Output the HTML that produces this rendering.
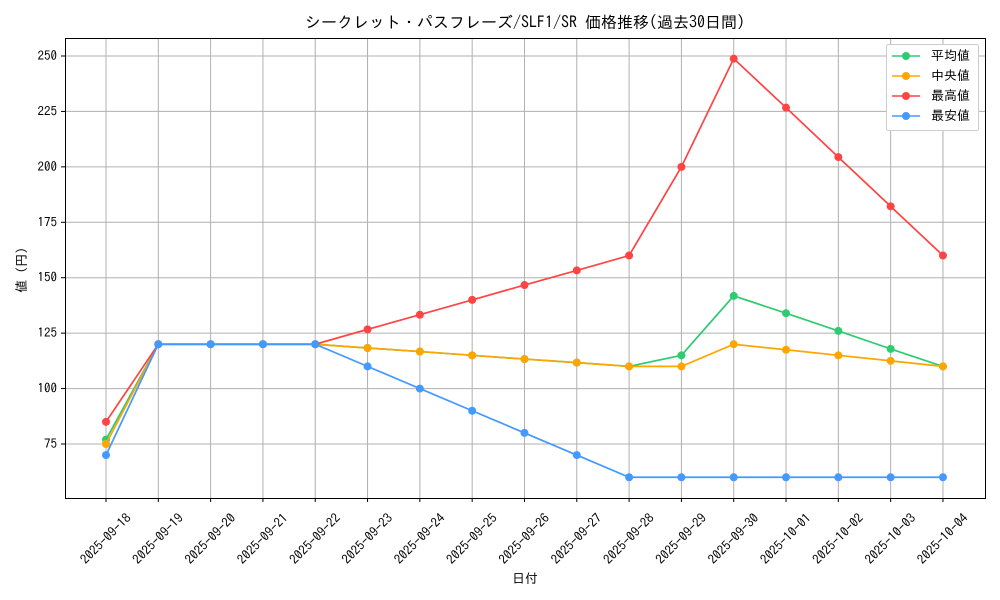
<!DOCTYPE html>
<html><head><meta charset="utf-8"><style>
html,body{margin:0;padding:0;background:#fff;}
svg{display:block;font-family:"IPAGothic","Liberation Sans","Noto Sans CJK JP",sans-serif;}
</style></head><body>
<svg width="1000" height="600" viewBox="0 0 1000 600" xmlns="http://www.w3.org/2000/svg">
<rect width="1000" height="600" fill="#fff"/>
<text x="525" y="28" font-size="16" text-anchor="middle" fill="#000">シークレット・パスフレーズ/SLF1/SR 価格推移(過去30日間)</text>
<g id="grid" stroke="#b0b0b0" stroke-width="1"></g>
<rect x="65.5" y="38.5" width="920" height="460" fill="none" stroke="#000" stroke-width="1"/>
<g id="ticks" font-size="13" fill="#000"></g>
<g id="series"></g>
<text x="525" y="583" font-size="13" text-anchor="middle">日付</text>
<text x="26" y="270" font-size="13" text-anchor="middle" transform="rotate(-90 26 270)">値 (円)</text>
<g font-size="13">
<rect x="886.5" y="44.5" width="92" height="86" rx="2" fill="#fff" stroke="#ccc"/>
<line x1="892" y1="56" x2="920" y2="56" stroke="#2ecc71" stroke-width="1.5"/><circle cx="906" cy="56" r="4" fill="#2ecc71"/><text x="931" y="60">平均値</text>
<line x1="892" y1="76" x2="920" y2="76" stroke="#ffa500" stroke-width="1.5"/><circle cx="906" cy="76" r="4" fill="#ffa500"/><text x="931" y="80"> 中央値</text>
<line x1="892" y1="96" x2="920" y2="96" stroke="#ff4444" stroke-width="1.5"/><circle cx="906" cy="96" r="4" fill="#ff4444"/><text x="931" y="100">最高値</text>
<line x1="892" y1="116" x2="920" y2="116" stroke="#4499ff" stroke-width="1.5"/><circle cx="906" cy="116" r="4" fill="#4499ff"/><text x="931" y="120">最安値</text>
</g>
</svg>
<script>
const ns="http://www.w3.org/2000/svg";
function el(p,t,a,txt){const e=document.createElementNS(ns,t);for(const k in a)e.setAttribute(k,a[k]);if(txt!=null)e.textContent=txt;p.appendChild(e);return e;}
const X=i=>106+i*52.31, Y=v=>444-(v-75)*2.2171;
const dates=["2025-09-18","2025-09-19","2025-09-20","2025-09-21","2025-09-22","2025-09-23","2025-09-24","2025-09-25","2025-09-26","2025-09-27","2025-09-28","2025-09-29","2025-09-30","2025-10-01","2025-10-02","2025-10-03","2025-10-04"];
const g=document.getElementById("grid"),t=document.getElementById("ticks"),s=document.getElementById("series");
dates.forEach((d,i)=>{const x=X(i);el(g,"line",{x1:x,y1:38,x2:x,y2:498});el(t,"line",{x1:x,y1:498,x2:x,y2:502,stroke:"#000"});
el(t,"text",{x:x,y:543,"text-anchor":"middle",transform:`rotate(-45 ${x} 539)`},d);});
[75,100,125,150,175,200,225,250].forEach(v=>{const y=Y(v);el(g,"line",{x1:65,y1:y,x2:985,y2:y});el(t,"line",{x1:61,y1:y,x2:65,y2:y,stroke:"#000"});el(t,"text",{x:57,y:y+4,"text-anchor":"end"},v);});
const data=[
["#2ecc71",[77,120,120,120,120,118.3,116.7,115,113.3,111.7,110,115,141.8,134,126,117.9,110]],
["#ffa500",[75,120,120,120,120,118.3,116.7,115,113.3,111.7,110,110,120,117.5,115,112.5,110]],
["#ff4444",[85,120,120,120,120,126.7,133.3,140,146.7,153.3,160,200,248.8,226.7,204.4,182.2,160]],
["#4499ff",[70,120,120,120,120,110,100,90,80,70,60,60,60,60,60,60,60]]];
data.forEach(([c,v])=>{el(s,"polyline",{points:v.map((a,i)=>X(i)+","+Y(a)).join(" "),fill:"none",stroke:c,"stroke-width":1.7});
v.forEach((a,i)=>el(s,"circle",{cx:X(i),cy:Y(a),r:4,fill:c}));});
</script>
</body></html>
